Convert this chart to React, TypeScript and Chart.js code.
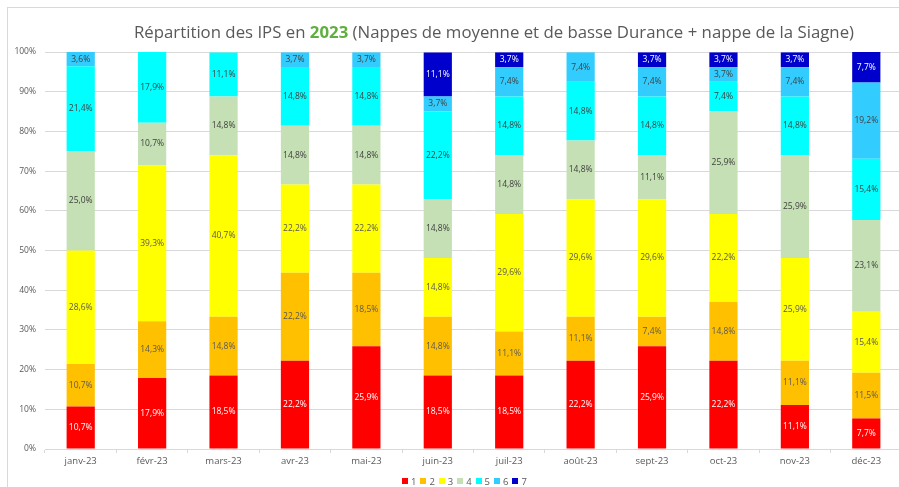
import React, { useEffect, useRef } from "react";
import { Chart, registerables } from "chart.js";

Chart.register(...registerables);

const months = [
  "janv-23", "févr-23", "mars-23", "avr-23", "mai-23", "juin-23",
  "juil-23", "août-23", "sept-23", "oct-23", "nov-23", "déc-23",
];
const ips1 = [10.7, 17.9, 18.5, 22.2, 25.9, 18.5, 18.5, 22.2, 25.9, 22.2, 11.1, 7.7];
const ips2 = [10.7, 14.3, 14.8, 22.2, 18.5, 14.8, 11.1, 11.1, 7.4, 14.8, 11.1, 11.5];
const ips3 = [28.6, 39.3, 40.7, 22.2, 22.2, 14.8, 29.6, 29.6, 29.6, 22.2, 25.9, 15.4];
const ips4 = [25.0, 10.7, 14.8, 14.8, 14.8, 14.8, 14.8, 14.8, 11.1, 25.9, 25.9, 23.1];
const ips5 = [21.4, 17.9, 11.1, 14.8, 14.8, 22.2, 14.8, 14.8, 14.8, 7.4, 14.8, 15.4];
const ips6 = [3.6, 0, 0, 3.7, 3.7, 3.7, 7.4, 7.4, 7.4, 3.7, 7.4, 19.2];
const ips7 = [0, 0, 0, 0, 0, 11.1, 3.7, 0, 3.7, 3.7, 3.7, 7.7];
const seriesNames = ["1", "2", "3", "4", "5", "6", "7"];
const seriesValues = [ips1, ips2, ips3, ips4, ips5, ips6, ips7];
const yTickValues = [0, 10, 20, 30, 40, 50, 60, 70, 80, 90, 100];

const titleBefore = "Répartition des IPS en ";
const titleYear = "2023";
const titleAfter = " (Nappes de moyenne et de basse Durance + nappe de la Siagne)";

const seriesColors = ["#FF0000", "#FFC000", "#FFFF00", "#C5E0B4", "#00FFFF", "#33CCFF", "#0000CC"];
const labelColors = ["#FFFFFF", "#595959", "#595959", "#404040", "#404040", "#404040", "#FFFFFF"];
const FONT = "'Open Sans', 'Noto Sans', sans-serif";
const GRAY = "#595959";
const GRID = "#D9D9D9";

const fmt = (v: number) => v.toFixed(1).replace(".", ",") + "%";

const dataLabelPlugin = {
  id: "dataLabels",
  afterDatasetsDraw(chart: any) {
    const ctx = chart.ctx;
    ctx.save();
    ctx.font = `8.5px ${FONT}`;
    ctx.textAlign = "center";
    ctx.textBaseline = "middle";
    chart.data.datasets.forEach((ds: any, i: number) => {
      const meta = chart.getDatasetMeta(i);
      meta.data.forEach((el: any, j: number) => {
        const v = ds.data[j];
        if (!v) return;
        const p = el.getProps(["x", "y", "base"], true);
        ctx.fillStyle = labelColors[i];
        ctx.fillText(fmt(v), p.x, (p.y + p.base) / 2);
      });
    });
    ctx.restore();
  },
};

export default function App() {
  const canvasRef = useRef<HTMLCanvasElement | null>(null);

  useEffect(() => {
    if (!canvasRef.current) return;
    const chart = new Chart(canvasRef.current, {
      type: "bar",
      data: {
        labels: months,
        datasets: seriesNames.map((name, i) => ({
          label: name,
          data: seriesValues[i],
          backgroundColor: seriesColors[i],
          borderWidth: 0,
          barPercentage: 0.395,
          categoryPercentage: 1,
        })),
      },
      options: {
        responsive: false,
        animation: false,
        layout: { padding: { top: 52, right: 2, left: 0, bottom: 0 } },
        plugins: {
          legend: { display: false },
          title: { display: false },
          tooltip: { enabled: false },
        },
        scales: {
          x: {
            stacked: true,
            grid: { drawOnChartArea: false, drawTicks: true, tickLength: 4, color: GRID, offset: true },
            border: { color: GRID },
            ticks: { color: GRAY, font: { family: FONT, size: 9.5 }, padding: 3, maxRotation: 0, autoSkip: false },
            afterFit: (s: any) => { s.height = 38; },
          },
          y: {
            stacked: true,
            min: 0,
            max: 100,
            afterBuildTicks: (s: any) => { s.ticks = yTickValues.map((v) => ({ value: v })); },
            ticks: { color: GRAY, font: { family: FONT, size: 8.5 }, padding: 9, callback: (v: any) => v + "%" },
            grid: { color: GRID, drawTicks: false },
            border: { display: false },
            afterFit: (s: any) => { s.width = 45; },
          },
        },
      },
      plugins: [dataLabelPlugin],
    });
    return () => chart.destroy();
  }, []);

  return (
    <div style={{ position: "fixed", left: 0, top: 0, width: 899, height: 487, overflow: "hidden", background: "#FFFFFF" }}>
      <div style={{ position: "absolute", left: 7, top: 7, width: 1000, height: 1000, border: `1px solid ${GRID}` }} />
      <canvas ref={canvasRef} width={904} height={487} style={{ position: "absolute", left: 0, top: 0 }} />
      <div
        style={{
          position: "absolute", left: 0, top: 21, width: 988, textAlign: "center",
          fontFamily: FONT, fontSize: 16.8, lineHeight: "22px", color: GRAY, whiteSpace: "nowrap",
        }}
      >
        {titleBefore}
        <span style={{ color: "#5FAE3E", fontWeight: 700 }}>{titleYear}</span>
        {titleAfter}
      </div>
      {seriesNames.map((name, i) => (
        <div
          key={name}
          style={{
            position: "absolute", left: 402 + i * 18.4, top: 474, height: 14, display: "flex", alignItems: "center",
            fontFamily: FONT, fontSize: 9.5, color: GRAY,
          }}
        >
          <span style={{ display: "inline-block", width: 6, height: 6, background: seriesColors[i], marginRight: 3 }} />
          {name}
        </div>
      ))}
    </div>
  );
}
